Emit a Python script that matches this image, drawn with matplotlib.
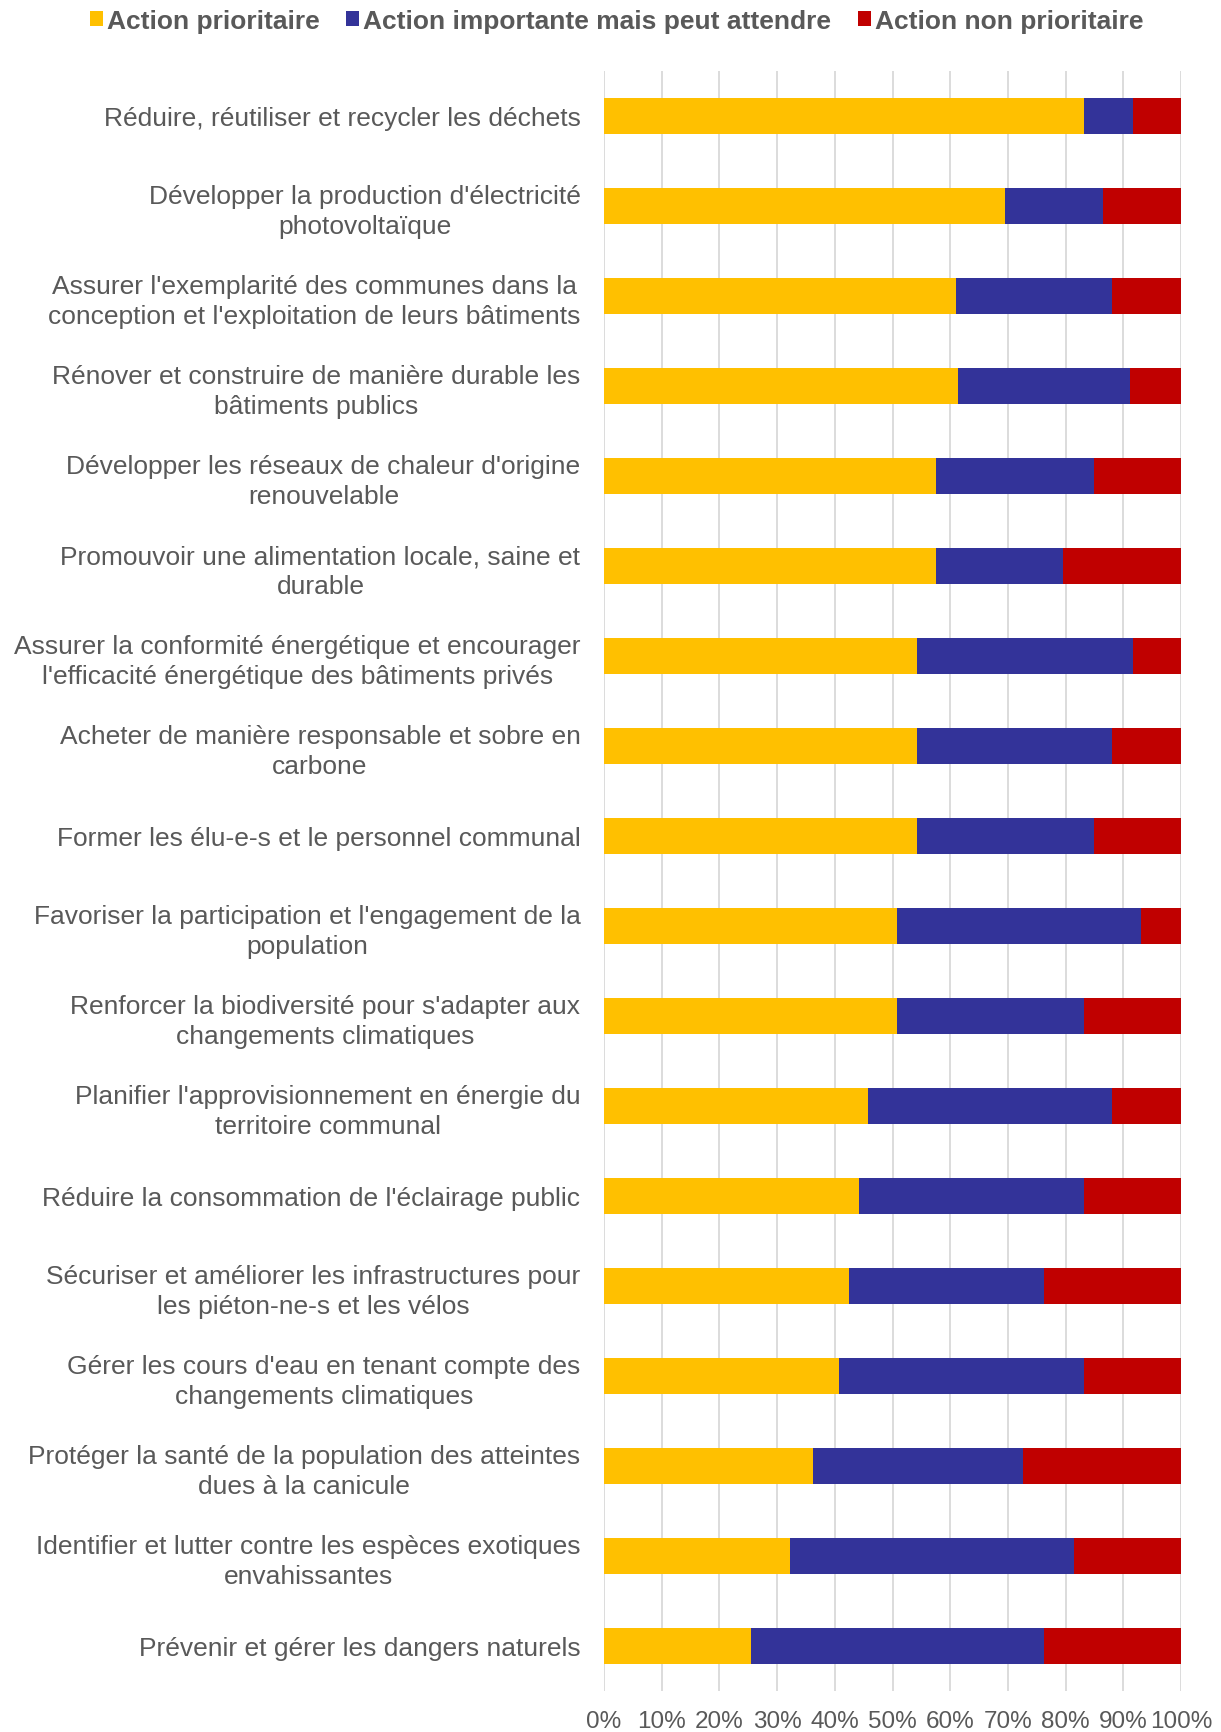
import matplotlib
matplotlib.use("Agg")
import matplotlib.pyplot as plt
import numpy as np
from matplotlib.patches import Patch

plt.rcParams['font.family'] = ['Liberation Sans', 'DejaVu Sans']

# Données (en %)
actions = [
    "Réduire, réutiliser et recycler les déchets",
    "Développer la production d'électricité\nphotovoltaïque",
    "Assurer l'exemplarité des communes dans la\nconception et l'exploitation de leurs bâtiments",
    "Rénover et construire de manière durable les\nbâtiments publics",
    "Développer les réseaux de chaleur d'origine\nrenouvelable",
    "Promouvoir une alimentation locale, saine et\ndurable",
    "Assurer la conformité énergétique et encourager\nl'efficacité énergétique des bâtiments privés",
    "Acheter de manière responsable et sobre en\ncarbone",
    "Former les élu-e-s et le personnel communal",
    "Favoriser la participation et l'engagement de la\npopulation",
    "Renforcer la biodiversité pour s'adapter aux\nchangements climatiques",
    "Planifier l'approvisionnement en énergie du\nterritoire communal",
    "Réduire la consommation de l'éclairage public",
    "Sécuriser et améliorer les infrastructures pour\nles piéton-ne-s et les vélos",
    "Gérer les cours d'eau en tenant compte des\nchangements climatiques",
    "Protéger la santé de la population des atteintes\ndues à la canicule",
    "Identifier et lutter contre les espèces exotiques\nenvahissantes",
    "Prévenir et gérer les dangers naturels",
]
prioritaire = [83.1, 69.5, 61.0, 61.3, 57.6, 57.6, 54.2, 54.2, 54.2, 50.8,
               50.8, 45.8, 44.1, 42.4, 40.7, 36.2, 32.2, 25.4]
importante = [8.5, 16.9, 27.1, 29.9, 27.3, 22.0, 37.4, 33.9, 30.7, 42.3,
              32.3, 42.3, 39.0, 33.8, 42.4, 36.4, 49.2, 50.8]
non_prioritaire = [100 - a - b for a, b in zip(prioritaire, importante)]

series_noms = ["Action prioritaire", "Action importante mais peut attendre", "Action non prioritaire"]
couleurs = ["#FFC000", "#333399", "#C00000"]
gris = "#595959"

fig = plt.figure(figsize=(12.21, 17.33), dpi=100)
ax = fig.add_axes([0.4947, 0.0237, 0.4726, 0.9348])

y = np.arange(len(actions))
gauche = np.zeros(len(actions))
for vals, c in zip([prioritaire, importante, non_prioritaire], couleurs):
    ax.barh(y, vals, left=gauche, height=0.4, color=c, zorder=3)
    gauche += np.array(vals)

ax.set_xlim(0, 100)
ax.set_ylim(17.5, -0.5)
ax.set_xticks(np.arange(0, 101, 10))
ax.set_xticklabels([f"{v}%" for v in range(0, 101, 10)], fontsize=17.5, color=gris)
ax.set_yticks(y)
ax.set_yticklabels(actions, fontsize=19, color=gris, linespacing=1.3)
for t in ax.get_yticklabels():
    t.set_multialignment('center')
ax.tick_params(axis='y', length=0, pad=17)
ax.tick_params(axis='x', length=0, pad=14)
ax.grid(axis='x', color="#D9D9D9", linewidth=1.3, zorder=0)
for s in ax.spines.values():
    s.set_visible(False)

poignees = [Patch(facecolor=c) for c in couleurs]
leg = fig.legend(poignees, series_noms, loc='upper center', bbox_to_anchor=(0.505, 1.008), ncol=3,
                 frameon=False, handlelength=0.5, handleheight=0.5, handletextpad=0.15,
                 columnspacing=1.0, prop={'size': 19, 'weight': 'bold'})
for t in leg.get_texts():
    t.set_color(gris)

fig.savefig("out.png", dpi=100)
